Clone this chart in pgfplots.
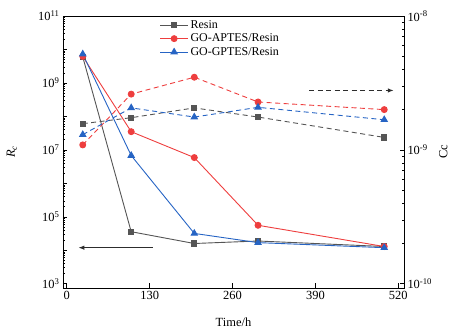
\documentclass[border=0pt]{standalone}
\usepackage{pgfplots}
\pgfplotsset{compat=1.18}
\usepackage{fontspec}
\setmainfont{Liberation Serif}
\usetikzlibrary{arrows.meta}
\definecolor{cgray}{RGB}{85,85,85}
\definecolor{cred}{RGB}{238,62,62}
\definecolor{cblue}{RGB}{38,100,196}
\definecolor{carrow}{RGB}{45,45,45}
\begin{document}
\begin{tikzpicture}
\useasboundingbox (-63bp,-45bp) rectangle (392bp,288bp);
\pgfplotsset{
  every axis/.append style={
    scale only axis, width=341bp, height=272bp,
    at={(0,0)}, anchor=south west,
    xmin=-6, xmax=529,
    font=\fontsize{12.5}{14}\selectfont,
    tick align=inside,
    axis line style={line width=0.9bp},
    major tick length=4.5bp, minor tick length=2.5bp,
    every tick/.style={line width=0.7bp, black},
  },
}
\begin{axis}[
  ymode=log, ymin=7.5e2, ymax=1e11,
  ytick={1e3,1e4,1e5,1e6,1e7,1e8,1e9,1e10,1e11},
  yticklabels={10\textsuperscript{3},,10\textsuperscript{5},,10\textsuperscript{7},,10\textsuperscript{9},,10\textsuperscript{11}},
  minor ytick={2e3,3e3,4e3,5e3,6e3,7e3,8e3,9e3,
    2e4,3e4,4e4,5e4,6e4,7e4,8e4,9e4,
    2e5,3e5,4e5,5e5,6e5,7e5,8e5,9e5,
    2e6,3e6,4e6,5e6,6e6,7e6,8e6,9e6,
    2e7,3e7,4e7,5e7,6e7,7e7,8e7,9e7,
    2e8,3e8,4e8,5e8,6e8,7e8,8e8,9e8,
    2e9,3e9,4e9,5e9,6e9,7e9,8e9,9e9,
    2e10,3e10,4e10,5e10,6e10,7e10,8e10,9e10},
  xtick={0,130,260,390,520},
  xtick pos=bottom, ytick pos=left,
  /pgf/number format/assume math mode=true,
  xlabel={Time/h},
  ylabel={{\itshape R}\textsubscript{\itshape c}},
  xlabel style={at={(axis description cs:0.5,-0.125)}, anchor=center},
  ylabel style={at={(axis description cs:-0.15,0.5)}, anchor=center},
  legend style={draw=none, fill=none, at={(rel axis cs:0.28,0.995)}, anchor=north west,
    font=\fontsize{12}{13}\selectfont, row sep=0bp, inner sep=1bp},
  legend cell align=left,
  legend image code/.code={\draw[mark repeat=2,mark phase=2] plot coordinates {(0bp,0bp) (14bp,0bp) (28bp,0bp)};},
]
\addplot[cgray, line width=0.9bp, mark=square*, mark size=2.6bp, mark options={solid}]
  coordinates {(25,6.0e9) (101,3.6e4) (200,1.6e4) (300,1.9e4) (498,1.3e4)};
\addlegendentry{Resin}
\addplot[cred, line width=0.9bp, mark=*, mark size=3bp, mark options={solid}]
  coordinates {(25,6.2e9) (101,3.5e7) (200,5.9e6) (300,5.6e4) (498,1.3e4)};
\addlegendentry{GO-APTES/Resin}
\addplot[cblue, line width=0.9bp, mark=triangle*, mark size=3.6bp, mark options={solid}]
  coordinates {(25,7.3e9) (101,6.8e6) (200,3.2e4) (300,1.7e4) (498,1.2e4)};
\addlegendentry{GO-GPTES/Resin}
\addplot[carrow, line width=1.2bp, -{Latex[length=6bp,width=4.5bp]}, forget plot]
  coordinates {(135,1.2e4) (18,1.2e4)};
\end{axis}
\begin{axis}[
  ymode=log, ymin=9.3e-11, ymax=1e-8,
  ytick={1e-10,1e-9,1e-8},
  yticklabels={10\textsuperscript{-10},10\textsuperscript{-9},10\textsuperscript{-8}},
  minor ytick={2e-10,3e-10,4e-10,5e-10,6e-10,7e-10,8e-10,9e-10,
    2e-9,3e-9,4e-9,5e-9,6e-9,7e-9,8e-9,9e-9},
  axis y line*=right, axis x line=none,
  ylabel={Cc},
  ylabel style={at={(axis description cs:1.115,0.5)}, anchor=center},
]
\addplot[cgray, line width=0.9bp, dash pattern=on 5bp off 3.5bp, mark=square*, mark size=2.6bp, mark options={solid}]
  coordinates {(25,1.57e-9) (101,1.74e-9) (200,2.06e-9) (300,1.76e-9) (498,1.24e-9)};
\addplot[cred, line width=0.9bp, dash pattern=on 5bp off 3.5bp, mark=*, mark size=3bp, mark options={solid}]
  coordinates {(25,1.09e-9) (101,2.61e-9) (200,3.49e-9) (300,2.28e-9) (498,2.0e-9)};
\addplot[cblue, line width=0.9bp, dash pattern=on 5bp off 3.5bp, mark=triangle*, mark size=3.6bp, mark options={solid}]
  coordinates {(25,1.30e-9) (101,2.06e-9) (200,1.76e-9) (300,2.08e-9) (498,1.68e-9)};
\addplot[carrow, line width=1.2bp, dash pattern=on 5bp off 3.5bp, -{Latex[length=6bp,width=4.5bp]}]
  coordinates {(380,2.78e-9) (513,2.78e-9)};
\end{axis}
\end{tikzpicture}
\end{document}
